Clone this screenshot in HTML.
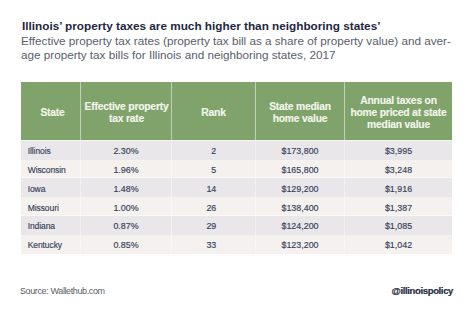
<!DOCTYPE html>
<html><head><meta charset="utf-8">
<style>
html,body{margin:0;padding:0;background:#fff;width:474px;height:316px;overflow:hidden;}
body{position:relative;font-family:"Liberation Sans",sans-serif;}
.t{position:absolute;white-space:nowrap;}
#title{-webkit-text-stroke:0px #1e2840;left:22px;top:19px;font-size:11.75px;font-weight:bold;color:#1e2840;line-height:14px;letter-spacing:0px;}
#sub{-webkit-text-stroke:0px #595e6b;left:21px;top:33.7px;font-size:11.7px;color:#595e6b;line-height:14.6px;letter-spacing:0px;}
#tbl{position:absolute;left:21px;top:82px;width:431px;height:172px;}
.hd{-webkit-text-stroke:0.15px #f3f6ec;position:absolute;top:0;height:58px;background:#7fa36b;color:#f3f6ec;font-weight:bold;font-size:10.3px;line-height:12px;text-align:center;display:flex;align-items:center;justify-content:center;letter-spacing:-0.2px;}
.hd span{display:block;position:relative;top:1.5px;white-space:nowrap;}
#hdbg{position:absolute;left:0;top:0;width:431px;height:58px;background:#7fa36b;}
.row{position:absolute;left:0;width:431px;}
.c{position:absolute;-webkit-text-stroke:0.15px #36405a;line-height:18px;font-size:8.9px;color:#36405a;text-align:center;white-space:nowrap;letter-spacing:0px;}
.c.r{text-align:right;}
.c.l{text-align:left;text-indent:6.7px;font-size:8.5px;letter-spacing:-0.08px;}
.sep{position:absolute;top:0;width:1px;height:58px;background:rgba(255,255,255,0.5);z-index:2;}
.bsep{position:absolute;top:58px;width:1px;height:114px;background:rgba(255,255,255,0.45);z-index:2;}
.hl{position:absolute;left:0;width:431px;height:1px;background:rgba(255,255,255,0.6);z-index:1;}
#src{-webkit-text-stroke:0px #5b5d66;left:20px;top:286px;font-size:9px;color:#5b5d66;letter-spacing:-0.38px;}
#handle{-webkit-text-stroke:0.2px #252d40;right:21px;top:285px;font-size:9.5px;font-weight:bold;color:#252d40;letter-spacing:-0.36px;}
</style></head><body>
<div class="t" id="title">Illinois’ property taxes are much higher than neighboring states’</div>
<div class="t" id="sub">Effective property tax rates (property tax bill as a share of property value) and aver-<br>age property tax bills for Illinois and neighboring states, 2017</div>
<div id="tbl">
  <div id="hdbg"></div>
  <div class="hd" style="left:0px;width:59px;"><span style="left:2px">State</span></div>
  <div class="hd" style="left:60px;width:90px;"><span style="left:0.5px">Effective property<br>tax rate</span></div>
  <div class="hd" style="left:151px;width:83px;"><span style="left:0px">Rank</span></div>
  <div class="hd" style="left:235px;width:88px;"><span style="left:0px">State median<br>home value</span></div>
  <div class="hd" style="left:324px;width:107px;"><span style="left:0px">Annual taxes on<br>home priced at state<br>median value</span></div>
  <div class="sep" style="left:59px"></div>
  <div class="sep" style="left:150px"></div>
  <div class="sep" style="left:234px"></div>
  <div class="sep" style="left:323px"></div>
  <div class="row" style="top:58px;height:20px;background:#e9e7e9;">
    <div class="c l" style="left:0px;width:59px;top:2px;">Illinois</div>
    <div class="c" style="left:60px;width:90px;top:2px;">2.30%</div>
    <div class="c r" style="left:151px;width:44.30000000000001px;top:2px;">2</div>
    <div class="c" style="left:235px;width:88px;top:2px;">$173,800</div>
    <div class="c" style="left:324px;width:107px;top:2px;">$3,995</div>
  </div>
  <div class="row" style="top:78px;height:18px;background:#f4f1ee;">
    <div class="c l" style="left:0px;width:59px;top:1px;">Wisconsin</div>
    <div class="c" style="left:60px;width:90px;top:1px;">1.96%</div>
    <div class="c r" style="left:151px;width:44.30000000000001px;top:1px;">5</div>
    <div class="c" style="left:235px;width:88px;top:1px;">$165,800</div>
    <div class="c" style="left:324px;width:107px;top:1px;">$3,248</div>
  </div>
  <div class="row" style="top:96px;height:19px;background:#e9e7e9;">
    <div class="c l" style="left:0px;width:59px;top:2px;">Iowa</div>
    <div class="c" style="left:60px;width:90px;top:2px;">1.48%</div>
    <div class="c r" style="left:151px;width:44.30000000000001px;top:2px;">14</div>
    <div class="c" style="left:235px;width:88px;top:2px;">$129,200</div>
    <div class="c" style="left:324px;width:107px;top:2px;">$1,916</div>
  </div>
  <div class="row" style="top:115px;height:19px;background:#f4f1ee;">
    <div class="c l" style="left:0px;width:59px;top:2px;">Missouri</div>
    <div class="c" style="left:60px;width:90px;top:2px;">1.00%</div>
    <div class="c r" style="left:151px;width:44.30000000000001px;top:2px;">26</div>
    <div class="c" style="left:235px;width:88px;top:2px;">$138,400</div>
    <div class="c" style="left:324px;width:107px;top:2px;">$1,387</div>
  </div>
  <div class="row" style="top:134px;height:19px;background:#e9e7e9;">
    <div class="c l" style="left:0px;width:59px;top:1px;">Indiana</div>
    <div class="c" style="left:60px;width:90px;top:1px;">0.87%</div>
    <div class="c r" style="left:151px;width:44.30000000000001px;top:1px;">29</div>
    <div class="c" style="left:235px;width:88px;top:1px;">$124,200</div>
    <div class="c" style="left:324px;width:107px;top:1px;">$1,085</div>
  </div>
  <div class="row" style="top:153px;height:19px;background:#f4f1ee;">
    <div class="c l" style="left:0px;width:59px;top:1px;">Kentucky</div>
    <div class="c" style="left:60px;width:90px;top:1px;">0.85%</div>
    <div class="c r" style="left:151px;width:44.30000000000001px;top:1px;">33</div>
    <div class="c" style="left:235px;width:88px;top:1px;">$123,200</div>
    <div class="c" style="left:324px;width:107px;top:1px;">$1,042</div>
  </div>
  <div class="bsep" style="left:59px"></div>
  <div class="bsep" style="left:150px"></div>
  <div class="bsep" style="left:234px"></div>
  <div class="bsep" style="left:323px"></div>
  <div class="hl" style="top:58px"></div>
  <div class="hl" style="top:95px"></div>
  <div class="hl" style="top:133px"></div>
</div>
<div class="t" id="src">Source: Wallethub.com</div>
<div class="t" id="handle">@illinoispolicy</div>
</body></html>
